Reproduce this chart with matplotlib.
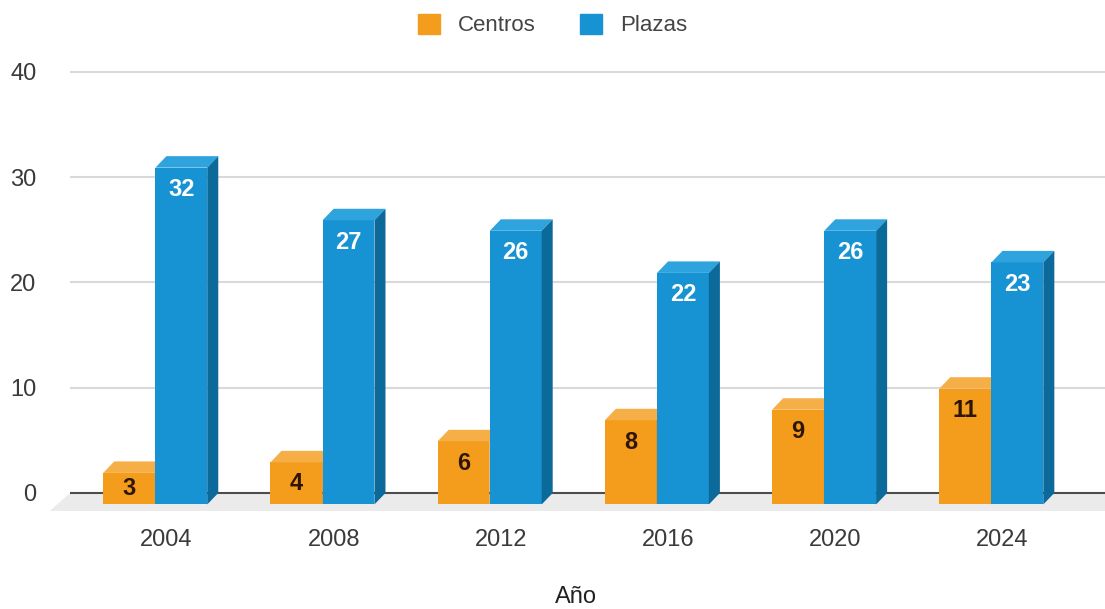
import matplotlib.pyplot as plt
from matplotlib.patches import Polygon, Patch
import numpy as np

# Data
years = ['2004', '2008', '2012', '2016', '2020', '2024']
centros = [3, 4, 6, 8, 9, 11]
plazas = [32, 27, 26, 22, 26, 23]

# Colours (front, top, side)
orange = ('#F49C1C', '#F6AE47', '#C97A10')
blue = ('#1792D2', '#2FA3DD', '#0C6A9B')

plt.rcParams['font.family'] = ['Liberation Sans', 'DejaVu Sans']

fig = plt.figure(figsize=(11.05, 6.09), dpi=100)
ax = fig.add_axes([0.0633, 0.1473, 0.9367, 0.7432])

x = np.arange(len(years))
w = 0.31
dx, dy = 0.066, 1.09      # depth of the bars (data units)

ax.set_xlim(-0.577, 5.613)
ax.set_ylim(-2.5, 40.5)


def bars3d(left, vals, cols, txtcol):
    # front faces through bar(), top and side faces as polygons
    ax.bar(left - dx, vals, w, bottom=-dy, align='edge', color=cols[0],
           zorder=3, linewidth=0)
    for l, v in zip(left, vals):
        top = [(l - dx, v - dy), (l - dx + w, v - dy), (l + w, v), (l, v)]
        side = [(l - dx + w, -dy), (l + w, 0), (l + w, v), (l - dx + w, v - dy)]
        ax.add_patch(Polygon(top, closed=True, color=cols[1], lw=0, zorder=3))
        ax.add_patch(Polygon(side, closed=True, color=cols[2], lw=0, zorder=3))
        ty = max(v - dy - 2.1, (v - 2 * dy) / 2)
        ax.text(l - dx + w / 2, ty, str(v), ha='center', va='center',
                fontsize=17, fontweight='bold', color=txtcol, zorder=4)


# floor
fdx, fdy = 0.12, 1.71
floor = [(-0.577, 0), (6.0, 0), (6.0 - fdx, -fdy), (-0.577 - fdx, -fdy)]
ax.add_patch(Polygon(floor, closed=True, color='#ebebeb', lw=0, zorder=1,
                     clip_on=False))

for yv in [10, 20, 30, 40]:
    ax.axhline(yv, color='#d9d9d9', lw=1.5, zorder=0)
ax.axhline(0, color='#4d4d4d', lw=1.5, zorder=2)

for i in range(len(years)):
    bars3d(np.array([x[i] - 0.312]), [centros[i]], orange, '#2e1606')
    bars3d(np.array([x[i] + 0.0]), [plazas[i]], blue, 'white')

ax.set_xticks(x)
ax.set_xticklabels(years)
ax.set_yticks([0, 10, 20, 30, 40])
ax.tick_params(axis='both', length=0, labelsize=17, colors='#3a3a3a')
ax.tick_params(axis='y', pad=24)
ax.tick_params(axis='x', pad=7)
for s in ax.spines.values():
    s.set_visible(False)

fig.text(0.521, 0.0197, 'Año', ha='center', va='center', fontsize=17,
         color='#222222')

handles = [Patch(color=orange[0], label='Centros'),
           Patch(color=blue[0], label='Plazas')]
fig.legend(handles=handles, loc='upper center', bbox_to_anchor=(0.5, 1.01),
           ncol=2, frameon=False, fontsize=16, handlelength=1.0,
           handleheight=1.0, columnspacing=2.0, handletextpad=0.8,
           labelcolor='#444444')

fig.savefig('out.png', dpi=100)
